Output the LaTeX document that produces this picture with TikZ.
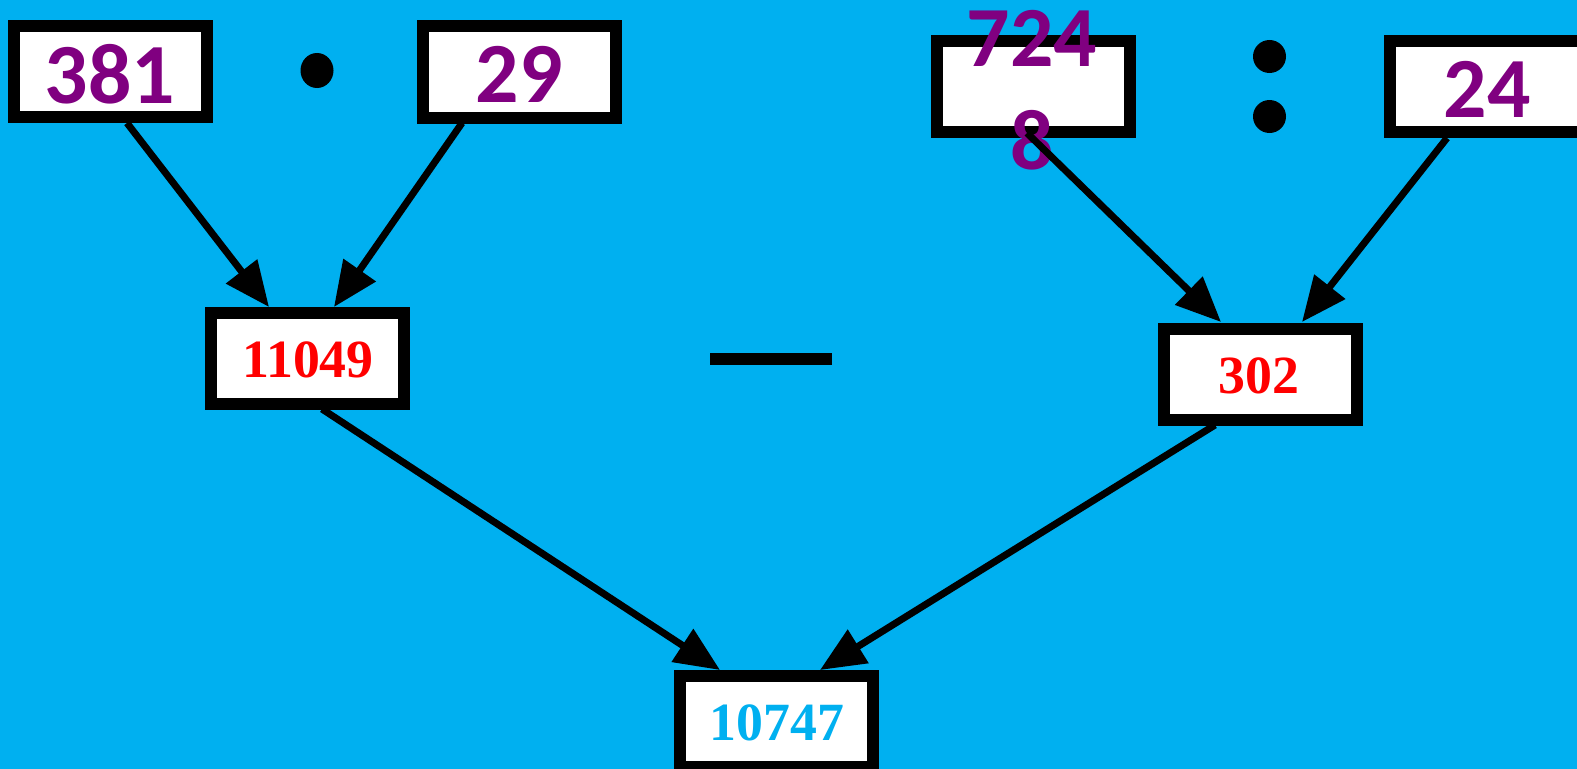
\documentclass[tikz,border=0pt]{standalone}
\usepackage{fontspec}
\setmainfont{Liberation Serif}
\newfontfamily\calfont{Carlito}
\usetikzlibrary{arrows.meta}
\definecolor{bg}{HTML}{00B0F0}
\definecolor{pur}{HTML}{800080}
\begin{document}
\begin{tikzpicture}[x=1bp,y=-1bp,
  box/.style={draw=black, fill=white, line width=12bp, minimum width=193bp, minimum height=91bp, inner sep=0pt},
  ptxt/.style={font=\calfont\bfseries\fontsize{86}{86}\selectfont, text=pur, inner sep=0pt},
  rtxt/.style={font=\bfseries\fontsize{54}{54}\selectfont, text=red, inner sep=0pt},
  btxt/.style={font=\bfseries\fontsize{54}{54}\selectfont, text=bg, inner sep=0pt},
  arr/.style={line width=7bp, -{Triangle[length=45bp,width=38bp]}},
  dotc/.style={fill=black, draw=none}]
\fill[bg] (0,0) rectangle (1577,769);
\useasboundingbox (0,0) rectangle (1577,769);
% boxes
\node[box] (b381) at (110.5,71.5) {};
\node[box] (b29) at (519,72) {};
\node[box] (b724) at (1033,86.5) {};
\node[box] (b24) at (1486.5,86.5) {};
\node[box] (b11049) at (307,358) {};
\node[box] (b302) at (1260,374) {};
\node[box] (b10747) at (776,721) {};
% texts
\node[ptxt] (t381) at (110,74.5) {381};
\node[ptxt] (t29) at (519,74.5) {29};
\node[ptxt] (t724) at (1032,38.5) {724};
\node[ptxt] (t8) at (1032.5,140.5) {8};
\node[ptxt] (t24) at (1487,89.5) {24};
\node[rtxt] (t11049) at (308,360) {11049};
\node[rtxt] (t302) at (1259,375.5) {302};
\node[btxt] (t10747) at (777,722.5) {10747};
% operators
\fill[dotc] (317,70.5) ellipse (16.5 and 17.5);
\fill[dotc] (1269.5,56.5) circle (16.5);
\fill[dotc] (1269.5,116.5) circle (16.5);
\draw[line width=12bp] (710,359) -- (832,359);
% connector endpoints
\coordinate (a1s) at (127,123); \coordinate (a1e) at (269,307);
\coordinate (a2s) at (462,123); \coordinate (a2e) at (334,307);
\coordinate (a3s) at (1027,133); \coordinate (a3e) at (1221,322);
\coordinate (a4s) at (1447,138); \coordinate (a4e) at (1302,322);
\coordinate (a5s) at (322,409); \coordinate (a5e) at (720,670);
\coordinate (a6s) at (1215,425); \coordinate (a6e) at (820,670);
\draw[arr] (a1s) -- (a1e);
\draw[arr] (a2s) -- (a2e);
\draw[arr] (a3s) -- (a3e);
\draw[arr] (a4s) -- (a4e);
\draw[arr] (a5s) -- (a5e);
\draw[arr] (a6s) -- (a6e);
\end{tikzpicture}
\end{document}
